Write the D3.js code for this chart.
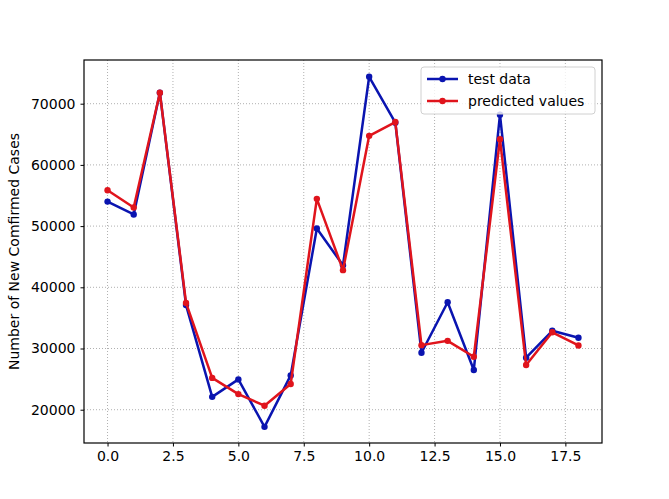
<!DOCTYPE html>
<html>
<head>
<meta charset="utf-8">
<script src="https://cdn.jsdelivr.net/npm/d3@7"></script>
<style>
  body { margin: 0; background: #fff; }
  text { font-family: "DejaVu Sans", sans-serif; }
</style>
</head>
<body>
<div id="chart"></div>
<script>
var svgWidth = 669;
var svgHeight = 499;

var margin = { top: 60, right: 67, bottom: 56, left: 84 };
var width = svgWidth - margin.left - margin.right;
var height = svgHeight - margin.top - margin.bottom;

// data
var xIndex = d3.range(19);
var testData = [54000, 51900, 71800, 37100, 22100, 24950, 17200, 25600, 49600, 43600,
                74400, 66900, 29300, 37550, 26500, 68200, 28500, 32900, 31750];
var predicted = [55850, 53050, 71800, 37450, 25200, 22550, 20650, 24200, 54450, 42800,
                 64750, 67000, 30550, 31250, 28650, 64200, 27300, 32650, 30500];
var xTicks = [0, 2.5, 5, 7.5, 10, 12.5, 15, 17.5];
var yTicks = [20000, 30000, 40000, 50000, 60000, 70000];
var seriesNames = ["test data", "predicted values"];
var colors = ["#0a14b0", "#e0141c"];

var svg = d3.select("#chart")
  .append("svg")
  .attr("width", svgWidth)
  .attr("height", svgHeight);

var chartGroup = svg.append("g")
  .attr("transform", `translate(${margin.left}, ${margin.top})`);

var x = d3.scaleLinear().domain([-0.9, 18.9]).range([0, width]);
var y = d3.scaleLinear().domain([14560, 77140]).range([height, 0]);

// grid
chartGroup.append("g")
  .selectAll("line.vgrid")
  .data(xTicks)
  .enter()
  .append("line")
  .attr("x1", d => x(d)).attr("x2", d => x(d))
  .attr("y1", 0).attr("y2", height)
  .attr("stroke", "#b0b0b0")
  .attr("stroke-width", 1)
  .attr("stroke-dasharray", "1,2");

chartGroup.append("g")
  .selectAll("line.hgrid")
  .data(yTicks)
  .enter()
  .append("line")
  .attr("x1", 0).attr("x2", width)
  .attr("y1", d => y(d)).attr("y2", d => y(d))
  .attr("stroke", "#b0b0b0")
  .attr("stroke-width", 1)
  .attr("stroke-dasharray", "1,2");

// axes
var bottomAxis = d3.axisBottom(x).tickValues(xTicks).tickFormat(d3.format(".1f")).tickSize(3.5).tickPadding(5);
var leftAxis = d3.axisLeft(y).tickValues(yTicks).tickFormat(d3.format("d")).tickSize(3.5).tickPadding(5);

var xAxisG = chartGroup.append("g")
  .attr("transform", `translate(0, ${height})`)
  .call(bottomAxis);
var yAxisG = chartGroup.append("g")
  .call(leftAxis);

[xAxisG, yAxisG].forEach(function(g) {
  g.select(".domain").remove();
  g.selectAll("text").attr("font-size", "14px").attr("fill", "#000")
    .attr("font-family", "DejaVu Sans, sans-serif");
  g.selectAll("line").attr("stroke", "#000").attr("stroke-width", 1);
});

// frame
chartGroup.append("rect")
  .attr("width", width)
  .attr("height", height)
  .attr("fill", "none")
  .attr("stroke", "#000")
  .attr("stroke-width", 1.2);

// lines
var line = d3.line()
  .x((d, i) => x(xIndex[i]))
  .y(d => y(d));

[testData, predicted].forEach(function(series, k) {
  chartGroup.append("path")
    .datum(series)
    .attr("d", line)
    .attr("fill", "none")
    .attr("stroke", colors[k])
    .attr("stroke-width", 2.5)
    .attr("stroke-linejoin", "round");

  chartGroup.selectAll(".dot" + k)
    .data(series)
    .enter()
    .append("circle")
    .attr("class", "dot" + k)
    .attr("cx", (d, i) => x(xIndex[i]))
    .attr("cy", d => y(d))
    .attr("r", 3.2)
    .attr("fill", colors[k]);
});

// legend
var legend = chartGroup.append("g")
  .attr("transform", `translate(${width - 181}, 7)`);

legend.append("rect")
  .attr("width", 174)
  .attr("height", 47)
  .attr("rx", 3)
  .attr("fill", "#fff")
  .attr("fill-opacity", 0.8)
  .attr("stroke", "#d0d0d0")
  .attr("stroke-width", 1);

seriesNames.forEach(function(name, k) {
  var ly = 12 + k * 22;
  legend.append("line")
    .attr("x1", 6).attr("x2", 37)
    .attr("y1", ly).attr("y2", ly)
    .attr("stroke", colors[k])
    .attr("stroke-width", 2.5);
  legend.append("circle")
    .attr("cx", 21.5).attr("cy", ly)
    .attr("r", 3.2)
    .attr("fill", colors[k]);
  legend.append("text")
    .attr("x", 47)
    .attr("y", ly)
    .attr("dy", "0.35em")
    .attr("font-size", "14px")
    .text(name);
});

// y-axis label
chartGroup.append("text")
  .attr("transform", "rotate(-90)")
  .attr("x", -height / 2)
  .attr("y", -margin.left + 19)
  .attr("text-anchor", "middle")
  .attr("font-size", "14px")
  .text("Number of New Comfirmed Cases");
</script>
</body>
</html>
